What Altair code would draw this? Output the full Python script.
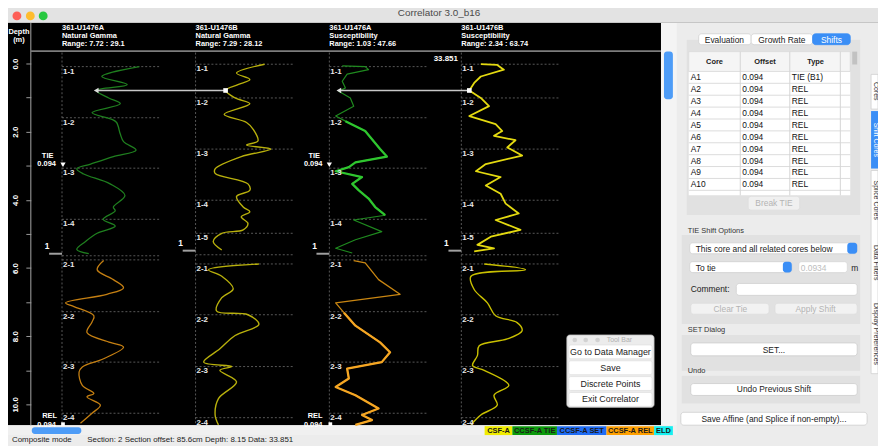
import altair as alt
import pandas as pd

FONT = "Liberation Sans"

# ------------------------------------------------------------------ data
WINDOW_TITLE = "Correlator 3.0_b16"
DEPTH_TICKS = [0, 1, 2, 3, 4, 5, 6, 7, 8, 9, 10]

TRACK_HOLE = ["361-U1476A", "361-U1476B", "361-U1476A", "361-U1476B"]
TRACK_TYPE = ["Natural Gamma", "Natural Gamma", "Susceptibility", "Susceptibility"]
TRACK_MIN = [7.72, 7.29, 1.03, 2.34]
TRACK_MAX = [29.1, 28.12, 47.66, 63.74]
TRACK_RANGE_TXT = ["Range: 7.72 : 29.1", "Range: 7.29 : 28.12", "Range: 1.03 : 47.66", "Range: 2.34 : 63.74"]

# U1476A natural gamma
A_NGR_C1_DEPTH = [0.09, 0.38, 0.62, 0.79, 1.01, 1.18, 1.44, 1.64, 1.73, 2.07, 2.29, 2.54, 2.73, 2.95, 3.09, 3.24, 3.53, 3.87, 4.21, 4.32, 4.57, 4.77, 4.98, 5.22, 5.45, 5.58]
A_NGR_C1_VALUE = [24.4, 16.3, 21.8, 15.1, 17.8, 20.3, 14.2, 18.5, 19.5, 20.3, 21.0, 23.7, 18.8, 13.9, 10.9, 12.4, 18.1, 21.3, 18.8, 19.2, 16.6, 19.2, 15.3, 12.8, 10.9, 13.5]
A_NGR_C2_DEPTH = [5.78, 6.05, 6.34, 6.58, 6.77, 7.02, 7.13, 7.40, 7.58, 7.89, 8.18, 8.32, 8.66, 8.90, 9.05, 9.44, 9.68, 9.78, 10.02, 10.26, 10.55]
A_NGR_C2_VALUE = [16.7, 15.3, 18.8, 21.0, 17.4, 8.5, 10.3, 14.6, 14.2, 13.1, 18.1, 21.0, 16.7, 12.1, 11.4, 12.1, 14.6, 13.1, 16.0, 14.2, 11.7]
# U1476B natural gamma
B_NGR_C1_DEPTH = [0.02, 0.28, 0.47, 0.62, 0.79, 1.01, 1.18, 1.49, 1.73, 1.93, 2.27, 2.39, 2.51, 2.73, 3.09, 3.22, 3.53, 3.72, 3.90, 4.21, 4.35, 4.50, 4.69, 4.88, 4.98, 5.22, 5.47]
B_NGR_C1_VALUE = [21.8, 15.9, 18.7, 16.2, 13.6, 15.6, 18.7, 13.3, 18.0, 19.4, 20.4, 18.0, 23.1, 16.9, 11.4, 11.4, 18.3, 18.7, 15.9, 17.3, 18.7, 16.9, 18.3, 17.3, 12.8, 11.0, 12.8]
B_NGR_C2_DEPTH = [5.88, 6.05, 6.24, 6.61, 6.87, 7.26, 7.37, 7.65, 7.98, 8.37, 8.76, 8.89, 9.00, 9.34, 9.83, 10.31, 10.60]
B_NGR_C2_VALUE = [20.6, 10.0, 12.8, 15.2, 12.8, 11.7, 18.3, 20.6, 15.6, 12.4, 9.0, 14.9, 12.4, 15.9, 12.1, 11.4, 12.1]
# U1476A susceptibility
A_MS_C1_DEPTH = [0.07, 0.09, 0.18, 0.31, 0.52, 0.72, 0.81, 1.01, 1.25, 1.54, 1.69, 1.98, 2.22, 2.51, 2.73, 2.90, 3.04, 3.16, 3.33, 3.53, 3.72, 3.96, 4.21, 4.45, 4.59, 4.93, 5.17, 5.42, 5.56]
A_MS_C1_VALUE = [7.1, 17.9, 19.5, 9.4, 7.1, 8.6, 5.5, 10.9, 12.5, 4.0, 8.6, 17.9, 21.1, 24.9, 28.1, 13.3, 10.2, 4.0, 16.4, 11.8, 14.9, 19.5, 22.6, 27.3, 12.5, 25.7, 13.3, 4.0, 11.8]
A_MS_C2_DEPTH = [5.78, 5.85, 6.10, 6.34, 6.77, 7.02, 7.31, 7.69, 8.18, 8.47, 8.76, 8.95, 9.24, 9.49, 9.73, 10.12, 10.31, 10.46, 10.60]
A_MS_C2_VALUE = [12.5, 17.9, 21.1, 24.2, 34.3, 4.0, 7.9, 13.3, 24.9, 29.6, 25.7, 9.4, 10.2, 4.0, 13.3, 24.2, 16.4, 21.1, 13.3]
# U1476B susceptibility
B_MS_C1_DEPTH = [0.02, 0.04, 0.18, 0.38, 0.57, 0.79, 1.01, 1.25, 1.54, 1.78, 1.98, 2.12, 2.25, 2.46, 2.70, 2.95, 3.16, 3.33, 3.58, 3.82, 4.11, 4.40, 4.59, 4.88, 5.08, 5.32, 5.42, 5.51]
B_MS_C1_VALUE = [14.4, 24.6, 28.7, 14.4, 10.3, 7.3, 14.4, 19.5, 7.3, 23.6, 27.7, 22.6, 35.9, 30.8, 40.0, 17.5, 11.4, 26.7, 17.5, 26.7, 29.8, 37.9, 23.6, 39.0, 20.6, 12.3, 22.6, 10.3]
B_MS_C2_DEPTH = [5.88, 6.05, 6.24, 6.63, 7.02, 7.40, 7.60, 7.84, 8.08, 8.28, 8.57, 8.86, 9.00, 9.44, 9.73, 10.02, 10.31, 10.60]
B_MS_C2_VALUE = [16.5, 42.1, 8.3, 10.3, 18.5, 23.6, 36.9, 40.0, 30.8, 13.4, 12.3, 9.3, 16.5, 31.8, 22.6, 24.6, 14.4, 8.3]

SECTION_A_LABEL = ["1-1", "1-2", "1-3", "1-4", "", "2-1", "2-2", "2-3", "2-4"]
SECTION_A_DEPTH = [0.09, 1.59, 3.07, 4.57, 5.64, 5.76, 7.28, 8.76, 10.26]
SECTION_B_LABEL = ["1-1", "1-2", "1-3", "1-4", "1-5", "", "2-1", "2-2", "2-3", "2-4"]
SECTION_B_DEPTH = [0.02, 1.01, 2.51, 4.01, 4.98, 5.61, 5.88, 7.37, 8.89, 10.39]
CORE_END_DEPTH = [5.58, 5.49, 5.58, 5.49]

TIE_DEPTH = 0.79
TIE_VALUE_FROM = [15.1, 5.5]   # tracks 1 and 3
TIE_VALUE_TO = [13.6, 7.3]     # tracks 2 and 4
TIE_MARK_DEPTH = 2.97
REL_MARK_DEPTH = 10.58
SHIFT_TXT = "0.094"
CURSOR_VALUE = "33.851"

SHIFT_CORE = ["A1", "A2", "A3", "A4", "A5", "A6", "A7", "A8", "A9", "A10"]
SHIFT_OFFSET = ["0.094", "0.094", "0.094", "0.094", "0.094", "0.094", "0.094", "0.094", "0.094", "0.094"]
SHIFT_TYPE = ["TIE (B1)", "REL", "REL", "REL", "REL", "REL", "REL", "REL", "REL", "REL"]

LEGEND_LABEL = ["CSF-A", "CCSF-A TIE", "CCSF-A SET", "CCSF-A REL", "ELD"]
LEGEND_COLOR = ["#f0ec00", "#0c9a0c", "#1f6cf5", "#ffa000", "#16f0f0"]

TOOLBAR_ITEMS = ["Go to Data Manager", "Save", "Discrete Points", "Exit Correlator"]
STATUS_MODE = "Composite mode"
STATUS_INFO = "Section: 2 Section offset: 85.6cm Depth: 8.15 Data: 33.851"

# ------------------------------------------------------------------ layout (page pixels)
W, H = 878, 438
TRACK_X0 = [62.5, 197.3, 332.3, 465.5]
TRACK_W = 100
PX = alt.Scale(domain=[8, 886], range=[0, W], zero=False, nice=False)
PY = alt.Scale(domain=[8, 446], range=[0, H], zero=False, nice=False)
DEPTH = alt.Scale(domain=[-0.35, 10.61], range=[42, 419], zero=False, nice=False)


def X(f):
    return alt.X(f"{f}:Q", scale=PX, axis=None)


def Y(f):
    return alt.Y(f"{f}:Q", scale=PY, axis=None)


def YD(f):
    return alt.Y(f"{f}:Q", scale=DEPTH, axis=None)


def track_px(t, v):
    return TRACK_X0[t] + (v - TRACK_MIN[t]) / (TRACK_MAX[t] - TRACK_MIN[t]) * TRACK_W


def rects(rows, corner=0, sw=0.8):
    df = pd.DataFrame(rows, columns=["x", "y", "x2", "y2", "fill", "stroke"])
    return alt.Chart(df).mark_rect(cornerRadius=corner, strokeWidth=sw).encode(
        x=X("x"), x2="x2", y=Y("y"), y2="y2",
        fill=alt.Fill("fill:N", scale=None),
        stroke=alt.Stroke("stroke:N", scale=None))


def texts(rows, align="left", weight="normal", angle=0):
    df = pd.DataFrame(rows, columns=["x", "y", "t", "s", "c"])
    return alt.Chart(df).mark_text(align=align, baseline="middle", fontWeight=weight,
                                   font=FONT, angle=angle).encode(
        x=X("x"), y=Y("y"), text="t:N",
        size=alt.Size("s:Q", scale=None), color=alt.Color("c:N", scale=None))


def hrules(rows, color, width=1, dash=None):
    df = pd.DataFrame(rows, columns=["x", "x2", "y"])
    kw = {"strokeDash": dash} if dash else {}
    return alt.Chart(df).mark_rule(color=color, strokeWidth=width, **kw).encode(
        x=X("x"), x2="x2", y=Y("y"))


def vrules(rows, color, width=1, dash=None):
    df = pd.DataFrame(rows, columns=["x", "y", "y2"])
    kw = {"strokeDash": dash} if dash else {}
    return alt.Chart(df).mark_rule(color=color, strokeWidth=width, **kw).encode(
        x=X("x"), y=Y("y"), y2="y2")


def curve(t, depths, values, color, width, dmin=None, dmax=None, smooth=False):
    df = pd.DataFrame({"depth": depths, "value": values, "i": list(range(len(depths)))})
    ch = alt.Chart(df)
    if dmin is not None:
        ch = ch.transform_filter(f"datum.depth >= {dmin} && datum.depth <= {dmax}")
    x0 = TRACK_X0[t] - 8
    interp = "catmull-rom" if smooth else "linear"
    return ch.mark_line(color=color, strokeWidth=width, strokeJoin="round", interpolate=interp).encode(
        x=alt.X("value:Q", scale=alt.Scale(domain=[TRACK_MIN[t], TRACK_MAX[t]],
                                           range=[x0, x0 + TRACK_W], zero=False, nice=False), axis=None),
        y=YD("depth"), order="i:Q")


layers = []

# ---------------- window chrome
layers.append(rects([
    (0, 0, 886, 20, "#e3e3e3", "transparent"),
    (0, 20, 886, 21, "#c6c6c6", "transparent"),
    (683, 21, 886, 437, "#ececec", "transparent"),
    (8, 21, 667, 427, "#000000", "transparent"),
    (667, 21, 683, 427, "#f4f4f4", "transparent"),
    (8, 427, 683, 437, "#f0f0f0", "transparent"),
    (0, 437, 886, 446, "#ececec", "transparent"),
    (693, 38, 868, 215, "#e1e1e1", "transparent"),
    (688, 235, 868, 325, "#e1e1e1", "transparent"),
    (688, 336, 868, 372, "#e1e1e1", "transparent"),
    (688, 377, 868, 405, "#e1e1e1", "transparent"),
    (695, 50, 858, 195, "#ffffff", "transparent"),
    (695, 50, 858, 70, "#f5f5f5", "#d6d6d6"),
    (860, 50, 865, 63, "#c2c2c2", "transparent"),
    (879, 73, 886, 108, "#ffffff", "#d0d0d0"),
    (879, 110, 886, 168, "#3a8ef6", "transparent"),
    (879, 170, 886, 375, "#ffffff", "#d0d0d0"),
]))
layers.append(rects([
    (670, 50, 679, 98, "#4d9cf7", "transparent"),
    (32, 429, 82, 436, "#4d9cf7", "transparent"),
    (705, 32, 758, 43, "#ffffff", "#d0d0d0"),
    (758, 32, 820, 43, "#ffffff", "#d0d0d0"),
    (820, 32, 858, 43, "#3a8ef6", "#3a8ef6"),
    (755, 196, 807, 210, "#f0f0f0", "#dddddd"),
    (696, 243, 865, 254, "#ffffff", "#d0d0d0"),
    (855, 243, 865, 254, "#3a8ef6", "transparent"),
    (696, 262, 799, 273, "#ffffff", "#d0d0d0"),
    (790, 262, 799, 273, "#3a8ef6", "transparent"),
    (806, 262, 855, 273, "#ffffff", "#d8d8d8"),
    (743, 284, 865, 296, "#ffffff", "#d0d0d0"),
    (697, 304, 776, 315, "#f2f2f2", "#dddddd"),
    (782, 304, 865, 315, "#f2f2f2", "#dddddd"),
    (697, 344, 865, 357, "#ffffff", "#cccccc"),
    (697, 385, 865, 397, "#ffffff", "#cccccc"),
    (687, 414, 875, 427, "#ffffff", "#cccccc"),
], corner=3))

# traffic lights
tl = pd.DataFrame({"x": [17, 30.5, 43.5], "y": [14, 14, 14], "c": ["#fd5f57", "#febc2e", "#28c840"]})
layers.append(alt.Chart(tl).mark_point(filled=True, size=80, opacity=1, shape="circle").encode(
    x=X("x"), y=Y("y"), color=alt.Color("c:N", scale=None)))

# depth column + header separator
layers.append(vrules([(31, 21, 427)], "#8c8c8c", 1.2))
layers.append(hrules([(31, 667, 49.5)], "#7c7c7c", 2))

# section dotted grid
sec_rows = []
for t in range(4):
    labels = SECTION_A_LABEL if t % 2 == 0 else SECTION_B_LABEL
    depths = SECTION_A_DEPTH if t % 2 == 0 else SECTION_B_DEPTH
    for lab, d in zip(labels, depths):
        sec_rows.append({"x": TRACK_X0[t], "x2": TRACK_X0[t] + TRACK_W, "depth": d, "label": lab})
sec = pd.DataFrame(sec_rows)
layers.append(alt.Chart(sec).mark_rule(color="#6e6e6e", strokeWidth=0.8, strokeDash=[2, 2]).encode(
    x=X("x"), x2="x2", y=YD("depth")))
layers.append(vrules([(x, 51, 427) for x in TRACK_X0], "#6e6e6e", 0.8, [2, 2]))

# depth axis
layers.append(alt.Chart(pd.DataFrame({"d": DEPTH_TICKS})).mark_rule(opacity=0).encode(
    y=alt.Y("d:Q", scale=DEPTH, axis=alt.Axis(
        values=DEPTH_TICKS, orient="left", offset=-23, domain=False, grid=False, title=None,
        labelExpr="datum.value % 2 == 0 ? format(datum.value, '.1f') : ''",
        tickColor="#9a9a9a", tickSize=5, tickWidth=1, labelColor="#ffffff", labelFontSize=8,
        labelFont=FONT, labelFontWeight="bold", labelAngle=270, labelAlign="center",
        labelBaseline="bottom", labelPadding=6, labelFlush=False, zindex=2))))

# ---------------- curves
layers += [
    curve(0, A_NGR_C1_DEPTH, A_NGR_C1_VALUE, "#1f7f1f", 1.3, smooth=True),
    curve(0, A_NGR_C2_DEPTH, A_NGR_C2_VALUE, "#c47f12", 1.3, smooth=True),
    curve(1, B_NGR_C1_DEPTH, B_NGR_C1_VALUE, "#b8b00c", 1.4, smooth=True),
    curve(1, B_NGR_C2_DEPTH, B_NGR_C2_VALUE, "#b8b00c", 1.4, smooth=True),
    curve(2, A_MS_C1_DEPTH, A_MS_C1_VALUE, "#1f8a1f", 1.2),
    curve(2, A_MS_C1_DEPTH, A_MS_C1_VALUE, "#2fc62f", 2.3, 1.6, 4.5),
    curve(2, A_MS_C2_DEPTH, A_MS_C2_VALUE, "#c98612", 1.3),
    curve(2, A_MS_C2_DEPTH, A_MS_C2_VALUE, "#f5a623", 2.3, 7.3, 10.61),
    curve(3, B_MS_C1_DEPTH, B_MS_C1_VALUE, "#e4da10", 1.8),
    curve(3, B_MS_C2_DEPTH, B_MS_C2_VALUE, "#c9c000", 1.4, smooth=True),
]

# tie lines
tie = pd.DataFrame({
    "x": [track_px(0, TIE_VALUE_FROM[0]), track_px(2, TIE_VALUE_FROM[1])],
    "x2": [track_px(1, TIE_VALUE_TO[0]), track_px(3, TIE_VALUE_TO[1])],
    "depth": [TIE_DEPTH, TIE_DEPTH]})
layers.append(alt.Chart(tie).mark_rule(color="#c8c8c8", strokeWidth=1.6).encode(
    x=X("x"), x2="x2", y=YD("depth")))
layers.append(alt.Chart(tie).mark_point(shape="triangle-left", filled=True, size=30, color="#dddddd", opacity=1).encode(
    x=X("x"), y=YD("depth")))
layers.append(alt.Chart(tie).mark_point(shape="square", filled=True, size=22, color="#ffffff", opacity=1).encode(
    x=X("x2"), y=YD("depth")))

# core end markers
ends = pd.DataFrame({"x": [x - 13 for x in TRACK_X0], "x2": TRACK_X0, "depth": CORE_END_DEPTH})
layers.append(alt.Chart(ends).mark_rule(color="#a0a0a0", strokeWidth=2).encode(
    x=X("x"), x2="x2", y=YD("depth")))
layers.append(alt.Chart(ends).mark_text(text="1", font=FONT, fontSize=8.5, fontWeight="bold", color="#ffffff",
                                        dy=-8, dx=-2, align="center").encode(x=X("x"), y=YD("depth")))

# tie / rel markers
marks = pd.DataFrame({"x": [TRACK_X0[0] + 1, TRACK_X0[2]], "depth": [TIE_MARK_DEPTH, TIE_MARK_DEPTH]})
layers.append(alt.Chart(marks).mark_point(shape="triangle-down", filled=True, size=28, color="#ffffff", opacity=1).encode(
    x=X("x"), y=YD("depth")))
rel = pd.DataFrame({"x": [TRACK_X0[0] + 1, TRACK_X0[2] + 1], "depth": [REL_MARK_DEPTH, REL_MARK_DEPTH]})
layers.append(alt.Chart(rel).mark_point(shape="square", filled=True, size=14, color="#ffffff", opacity=1).encode(
    x=X("x"), y=YD("depth")))

# section labels
layers.append(alt.Chart(sec).mark_text(align="left", baseline="middle", dx=1, dy=5, font=FONT, fontSize=8,
                                       fontWeight="bold", color="#e8e8e8").encode(
    x=X("x"), y=YD("depth"), text="label:N"))

# ---------------- texts in black area
hdr = []
for t in range(4):
    hdr += [(TRACK_X0[t], 26, TRACK_HOLE[t], 7.5, "#ffffff"),
            (TRACK_X0[t], 34, TRACK_TYPE[t], 7.5, "#ffffff"),
            (TRACK_X0[t], 42, TRACK_RANGE_TXT[t], 7.5, "#ffffff")]
layers.append(texts(hdr, "left", "bold"))
layers.append(texts([
    (19, 30, "Depth", 7.5, "#ffffff"), (19, 38.5, "(m)", 7.5, "#ffffff"),
    (48, 155, "TIE", 7.5, "#ffffff"), (47, 163.5, SHIFT_TXT, 7.5, "#ffffff"),
    (317, 155, "TIE", 7.5, "#ffffff"), (316, 163.5, SHIFT_TXT, 7.5, "#ffffff"),
    (50, 418, "REL", 7.5, "#ffffff"), (47, 426.5, SHIFT_TXT, 7.5, "#ffffff"),
    (318, 418, "REL", 7.5, "#ffffff"), (316, 426.5, SHIFT_TXT, 7.5, "#ffffff"),
], "center", "bold"))
layers.append(texts([(462, 57, CURSOR_VALUE, 8, "#ffffff")], "right", "bold"))

# ---------------- floating tool bar
layers.append(rects([(572, 336, 660, 409, "#ececec", "#c4c4c4")], corner=3))
layers.append(rects([
    (574, 346, 658, 360, "#ffffff", "#e0e0e0"),
    (574, 362, 658, 376, "#ffffff", "#e0e0e0"),
    (574, 378, 658, 392, "#ffffff", "#e0e0e0"),
    (574, 394, 658, 408, "#ffffff", "#e0e0e0"),
], corner=2))
tbc = pd.DataFrame({"x": [580, 591, 603], "y": [341, 341, 341]})
layers.append(alt.Chart(tbc).mark_point(filled=True, size=22, color="#d2d2d2", opacity=1).encode(x=X("x"), y=Y("y")))
layers.append(texts([(625, 341, "Tool Bar", 7, "#b0b0b0")] +
                    [(616, yy, lab, 9, "#222222") for yy, lab in zip([353, 369, 385, 401], TOOLBAR_ITEMS)],
                    "center"))

# ---------------- legend strip
lb = [489, 517, 562, 612, 660, 679]
leg_rows = [(a, 428, b, 437, c, "transparent") for a, b, c in zip(lb[:-1], lb[1:], LEGEND_COLOR)]
layers.append(rects(leg_rows))
layers.append(texts([((a + b) / 2, 432.5, lab, 7.5, "#1a1a1a") for a, b, lab in zip(lb[:-1], lb[1:], LEGEND_LABEL)],
                    "center", "bold"))

# ---------------- status bar
layers.append(texts([(12, 442, STATUS_MODE, 8, "#222222"), (88, 442, STATUS_INFO, 8, "#222222")], "left"))

# ---------------- right panel: shifts table
tab = pd.DataFrame({"core": SHIFT_CORE, "offset": SHIFT_OFFSET, "type": SHIFT_TYPE})
ROWS = alt.Scale(type="point", domain=SHIFT_CORE, range=[68, 176], padding=0)
layers.append(alt.Chart(tab).mark_rule(color="#dcdcdc", strokeWidth=1, yOffset=6).encode(
    x=alt.value(695 - 8), x2=alt.value(858 - 8), y=alt.Y("core:N", scale=ROWS, axis=None)))
layers.append(vrules([(747, 50, 195), (797, 50, 195), (848, 50, 195)], "#d4d4d4", 1))
for col, xx in [("core", 697), ("offset", 749), ("type", 799)]:
    layers.append(alt.Chart(tab).mark_text(align="left", baseline="middle", font=FONT, fontSize=8.5,
                                           color="#111111").encode(
        x=alt.value(xx - 8), y=alt.Y("core:N", scale=ROWS, axis=None), text=f"{col}:N"))
layers.append(texts([(721, 60, "Core", 7.5, "#222222"), (772, 60, "Offset", 7.5, "#222222"),
                     (823, 60, "Type", 7.5, "#222222")], "center", "bold"))

layers.append(texts([
    (731, 38, "Evaluation", 8.5, "#222222"), (789, 38, "Growth Rate", 8.5, "#222222"),
    (839, 38, "Shifts", 8.5, "#ffffff"),
    (781, 203, "Break TIE", 8.5, "#b4b4b4"),
    (737, 310, "Clear Tie", 8.5, "#b4b4b4"), (823, 310, "Apply Shift", 8.5, "#b4b4b4"),
    (781, 351, "SET...", 8.5, "#222222"),
    (781, 391, "Undo Previous Shift", 8.5, "#222222"),
    (781, 420.5, "Save Affine (and Splice if non-empty)...", 8.5, "#222222"),
], "center"))
layers.append(texts([
    (694, 231, "TIE Shift Options", 7.5, "#333333"),
    (702, 249, "This core and all related cores below", 8.5, "#222222"),
    (702, 268, "To tie", 8.5, "#222222"),
    (808, 268, "0.0934", 8.5, "#bdbdbd"),
    (859, 268, "m", 8.5, "#222222"),
    (697, 290, "Comment:", 8.5, "#222222"),
    (694, 331, "SET Dialog", 7.5, "#333333"),
    (694, 372, "Undo", 7.5, "#333333"),
], "left"))
layers.append(texts([
    (884, 90, "Cores", 7, "#333333"), (884, 139, "Shift Cores", 7, "#ffffff"),
    (884, 200, "Splice Cores", 7, "#333333"), (884, 263, "Data Filters", 7, "#333333"),
    (884, 335, "Display Preferences", 7, "#333333"),
], "center", angle=90))
layers.append(texts([(443, 11, WINDOW_TITLE, 10, "#4a4a4a")], "center"))

chart = alt.layer(*layers).resolve_scale(x="independent", y="independent").properties(
    width=W, height=H, padding=0, autosize=alt.AutoSizeParams(type="none")
).configure(background="#ececec").configure_view(stroke="transparent", strokeWidth=0)

chart.save("out.html", embed_options={"renderer": "svg", "actions": False})
